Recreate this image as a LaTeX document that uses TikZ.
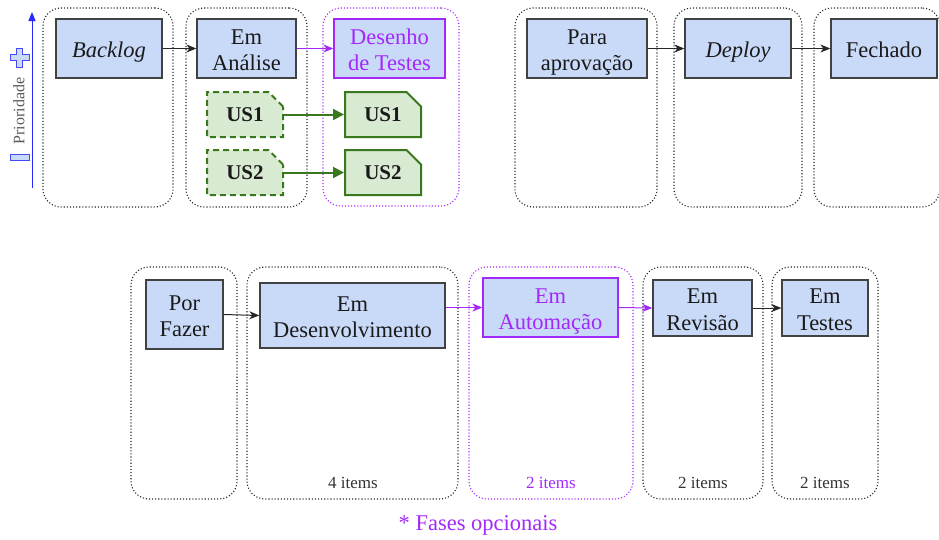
\documentclass[tikz,border=0pt]{standalone}
\usepackage{fontspec}
\setmainfont{Liberation Serif}
\usetikzlibrary{arrows.meta,shapes.misc}

\definecolor{boxblue}{RGB}{201,218,248}
\definecolor{boxline}{RGB}{66,66,66}
\definecolor{optpurple}{RGB}{163,40,250}
\definecolor{usgreen}{RGB}{58,120,30}
\definecolor{usfill}{RGB}{217,234,211}
\definecolor{textdark}{RGB}{26,26,26}
\definecolor{prioblue}{RGB}{40,40,250}

% phase captions sit a little below the box centre
\newcommand\phasetext[1]{\raisebox{-3.5pt}[\height][\depth]{\begin{tabular}{@{}c@{}}#1\end{tabular}}}

\tikzset{
  lane/.style={draw=black!85, line width=1.1pt, dash pattern=on 1.1pt off 2pt,
    rounded corners=18pt, inner sep=0pt},
  optlane/.style={lane, draw=optpurple},
  phase/.style={draw=boxline, fill=boxblue, line width=1.3pt, text=textdark,
    align=center, inner sep=0pt, font=\fontsize{22.5}{26.5}\selectfont},
  optphase/.style={phase, draw=optpurple, text=optpurple},
  story/.style={chamfered rectangle, chamfered rectangle corners=north east,
    chamfered rectangle sep=7.5pt, fill=usfill, draw=usgreen, line width=2pt,
    text=textdark, inner sep=0pt, minimum width=76pt, minimum height=45pt,
    font=\fontsize{21}{25}\selectfont\bfseries},
  draftstory/.style={story, dash pattern=on 6pt off 4pt},
  flow/.style={draw=black!85, line width=1pt, -{Stealth[length=10pt,width=8pt,inset=3pt]}},
  optflow/.style={flow, draw=optpurple},
  storyflow/.style={draw=usgreen, line width=2pt, -{Triangle[length=11pt,width=11pt]}},
  count/.style={text=black!80, font=\fontsize{17}{20}\selectfont},
}

\begin{document}
\begin{tikzpicture}[x=1pt, y=-1pt]
\useasboundingbox (0,0) rectangle (939,539);

% priority scale on the left
\coordinate (pbot) at (32,188);
\coordinate (ptop) at (32,12);
\draw[prioblue, line width=1pt, -{Triangle[length=9pt,width=7pt]}] (pbot) -- (ptop);
\node[rotate=90, text=black!65, font=\fontsize{16}{19}\selectfont] (prio) at (19,111) {Prioridade};
\filldraw[draw=prioblue!85, fill=boxblue, line width=1pt]
  (16.5,48) -- (22.5,48) -- (22.5,54.5) -- (29,54.5) -- (29,60.5) -- (22.5,60.5)
  -- (22.5,67) -- (16.5,67) -- (16.5,60.5) -- (10,60.5) -- (10,54.5) -- (16.5,54.5) -- cycle;
\filldraw[draw=prioblue!85, fill=boxblue, line width=1pt] (10,154) rectangle (29,160);

% top row lanes
\node[lane, minimum width=130pt, minimum height=199pt] (l1) at (108,107.5) {};
\node[lane, minimum width=121pt, minimum height=199pt] (l2) at (246.5,107.5) {};
\node[optlane, minimum width=136pt, minimum height=198pt] (l3) at (391,107) {};
\node[lane, minimum width=142pt, minimum height=199pt] (l4) at (586,107.5) {};
\node[lane, minimum width=128pt, minimum height=199pt] (l5) at (738,107.5) {};
\node[lane, minimum width=126pt, minimum height=199pt] (l6) at (877,107.5) {};

% bottom row lanes
\node[lane, minimum width=106pt, minimum height=232pt] (l7) at (184,383) {};
\node[lane, minimum width=211pt, minimum height=232pt] (l8) at (352.5,383) {};
\node[optlane, minimum width=164pt, minimum height=232pt] (l9) at (551,383) {};
\node[lane, minimum width=120pt, minimum height=232pt] (l10) at (703,383) {};
\node[lane, minimum width=106pt, minimum height=232pt] (l11) at (825,383) {};

% top row phases
\node[phase, minimum width=106pt, minimum height=59pt] (backlog) at (109,48.5) {\phasetext{\itshape Backlog}};
\node[phase, minimum width=99pt, minimum height=59pt] (analise) at (246.5,48.5) {\phasetext{Em\\Análise}};
\node[optphase, minimum width=111pt, minimum height=59pt] (desenho) at (389.5,48.5) {\phasetext{Desenho\\de Testes}};
\node[phase, minimum width=120pt, minimum height=59pt] (aprov) at (587,48.5) {\phasetext{Para\\aprovação}};
\node[phase, minimum width=106pt, minimum height=59pt] (deploy) at (738,48.5) {\phasetext{\itshape Deploy}};
\node[phase, minimum width=106pt, minimum height=59pt] (fechado) at (884,48.5) {\phasetext{Fechado}};

% user stories
\node[draftstory] (usa1) at (245,114.5) {US1};
\node[draftstory] (usa2) at (245,172.5) {US2};
\node[story] (usb1) at (383,114.5) {US1};
\node[story] (usb2) at (383,172.5) {US2};

% bottom row phases
\node[phase, minimum width=77pt, minimum height=69pt] (fazer) at (184.5,314.5) {\phasetext{Por\\Fazer}};
\node[phase, minimum width=185pt, minimum height=65pt] (desenv) at (352.5,315.5) {\phasetext{Em\\Desenvolvimento}};
\node[optphase, minimum width=135pt, minimum height=59pt] (autom) at (550.5,307.5) {\phasetext{Em\\Automação}};
\node[phase, minimum width=99pt, minimum height=56pt] (revisao) at (702.5,308) {\phasetext{Em\\Revisão}};
\node[phase, minimum width=86pt, minimum height=56pt] (testes) at (825,308) {\phasetext{Em\\Testes}};

% item counts
\node[count] (c8) at (353,483) {4 items};
\node[count, text=optpurple] (c9) at (551,483) {2 items};
\node[count] (c10) at (703,483) {2 items};
\node[count] (c11) at (825,483) {2 items};

\node[text=optpurple, font=\fontsize{22.5}{26}\selectfont] (nota) at (478,525) {* Fases opcionais};

% connectors
\draw[flow] (backlog.east) -- (analise.west);
\draw[optflow] (analise.east) -- (desenho.west);
\draw[storyflow] (usa1.east) -- (usb1.west);
\draw[storyflow] (usa2.east) -- (usb2.west);
\draw[flow] (aprov.east) -- (deploy.west);
\draw[flow] (deploy.east) -- (fechado.west);

\draw[flow] (fazer.east) -- (desenv.west);
\draw[optflow] (desenv.east |- autom.west) -- (autom.west);
\draw[optflow] (autom.east) -- (revisao.west);
\draw[flow] (revisao.east) -- (testes.west);
\end{tikzpicture}
\end{document}
